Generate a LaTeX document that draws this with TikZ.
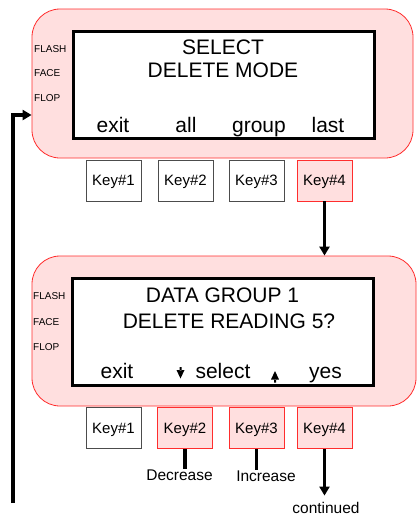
\documentclass[tikz,border=0pt]{standalone}
\usepackage{fontspec}
\setmainfont{Liberation Sans}
\usetikzlibrary{arrows.meta,positioning}
\definecolor{panelpink}{RGB}{255,223,223}
\definecolor{panelred}{RGB}{255,45,45}
\begin{document}
\begin{tikzpicture}[x=1pt, y=-1pt, >={Triangle[length=9pt,width=10pt]},
	panel/.style={draw=panelred, fill=panelpink, line width=0.8pt, rounded corners=28pt, inner sep=0pt},
	lcd/.style={draw, line width=3pt, fill=white, inner sep=0pt, minimum width=301pt, minimum height=107pt},
	key/.style={draw=black!70, line width=0.7pt, fill=white, minimum width=55pt, minimum height=41pt, inner sep=0pt, text depth=0pt, font=\fontsize{15}{15}\selectfont},
	hotkey/.style={key, draw=panelred, fill=panelpink},
	big/.style={inner sep=0pt, anchor=base, font=\fontsize{21}{21}\selectfont},
	led/.style={inner sep=0pt, anchor=base west, font=\fontsize{10}{10}\selectfont},
	note/.style={inner sep=0pt, anchor=base, font=\fontsize{15.5}{15.5}\selectfont},
	wire/.style={line width=3.5pt}]
	\useasboundingbox (0,0) rectangle (418,515);
	% first screen
	\node[panel, minimum width=381pt, minimum height=149pt] (p1) at (222.5,83.5) {};
	\node[lcd] (s1) at (223.5,85) {};
	\node[big] (t11) at (223,54) {SELECT};
	\node[big] (t12) at (223,77) {DELETE MODE};
	\foreach \lbl/\x [count=\i] in {exit/113, all/186, group/259, last/328}
		\node[big] (m1\i) at (\x,132) {\lbl};
	\foreach \lbl/\y in {FLASH/52, FACE/76, FLOP/101}
		\node[led] (l1\lbl) at (34,\y) {\lbl};
	\foreach \x [count=\i] in {113.5,185.5,256.5}
		\node[key] (k1\i) at (\x,180.5) {Key\#\i};
	\node[hotkey] (k14) at (324.5,180.5) {Key\#4};
	% second screen
	\node[panel, minimum width=384pt, minimum height=150pt] (p2) at (224,331) {};
	\node[lcd] (s2) at (222.5,331.5) {};
	\node[big] (t21) at (222.5,302.5) {DATA GROUP 1};
	\node[big] (t22) at (229,328) {DELETE READING 5?};
	\node[big] (m21) at (117,378) {exit};
	\node[big] (m22) at (223,378) {select};
	\node[big] (m24) at (325.5,378) {yes};
	\fill (179.5,367) rectangle (181.5,370.5) (176.5,370) -- (184.5,370) -- (180.5,378.5) -- cycle;
	\fill (274,382.5) rectangle (276,379) (271,379.5) -- (279,379.5) -- (275,371) -- cycle;
	\foreach \lbl/\y in {FLASH/299, FACE/325, FLOP/350}
		\node[led] (l2\lbl) at (33,\y) {\lbl};
	\node[key] (k21) at (113.5,428) {Key\#1};
	\foreach \x [count=\i from 2] in {185,256.5,324.5}
		\node[hotkey] (k2\i) at (\x,428) {Key\#\i};
	% notes under the keys
	\node[note] (dec) at (179.5,480) {Decrease};
	\node[note] (inc) at (266,481) {Increase};
	\node[note] (cont) at (326,513) {continued};
	% connectors
	\draw[wire,->] (k14) -- (k14 |- p2.north);
	\draw[wire] (k22) -- (k22 |- dec.north);
	\draw[wire] (k23) -- (k23 |- inc.north);
	\draw[wire,->,shorten >=6pt] (k24) -- (k24 |- cont.north);
	\coordinate (back) at (13,503);
	\draw[wire,->] (back) |- ([yshift=-31.5pt]p1.west);
\end{tikzpicture}
\end{document}
